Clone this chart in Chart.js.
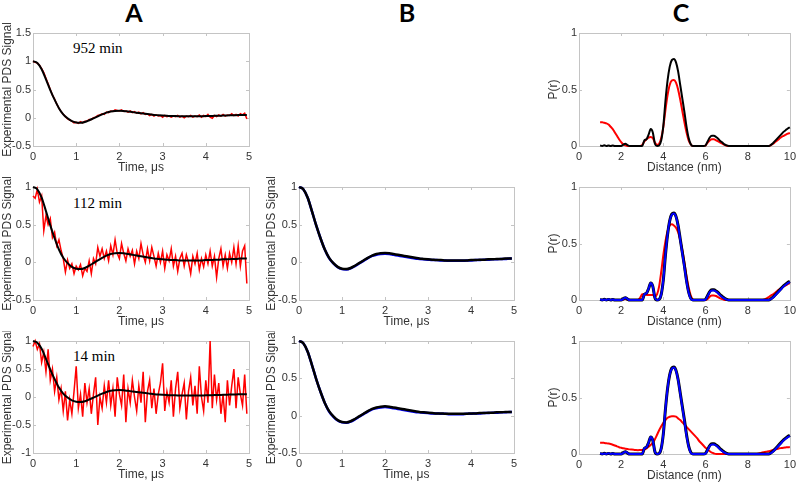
<!DOCTYPE html>
<html>
<head>
<meta charset="utf-8">
<script src="https://cdn.jsdelivr.net/npm/chart.js@4.4.1/dist/chart.umd.min.js"></script>
<style>
  body { margin: 0; background: #fff; }
  #wrap { position: relative; width: 800px; height: 485px; overflow: hidden; }
  canvas { position: absolute; }
  .head { position: absolute; top: 0px; width: 40px; margin-left: -20px; text-align: center;
          font: bold 25px Lato, "Open Sans", sans-serif; line-height: 25px; color: #000; }
  .note { position: absolute; font: 15px "Liberation Serif", "Times New Roman", serif; color: #000; line-height: 17px; }
</style>
</head>
<body>
<div id="wrap">
  <div class="head" style="left:134px">A</div>
  <div class="head" style="left:407px">B</div>
  <div class="head" style="left:681px">C</div>
  <div class="note" style="left:73px;top:40px">952 min</div>
  <div class="note" style="left:73px;top:195px">112 min</div>
  <div class="note" style="left:73px;top:348px">14 min</div>
</div>
<script>
// time axis of the measured traces (µs)
const tExp = [0,0.05,0.1,0.15,0.2,0.25,0.3,0.35,0.4,0.45,
  0.5,0.55,0.6,0.65,0.7,0.75,0.8,0.85,0.9,0.95,
  1,1.05,1.1,1.15,1.2,1.25,1.3,1.35,1.4,1.45,
  1.5,1.55,1.6,1.65,1.7,1.75,1.8,1.85,1.9,1.95,
  2,2.05,2.1,2.15,2.2,2.25,2.3,2.35,2.4,2.45,
  2.5,2.55,2.6,2.65,2.7,2.75,2.8,2.85,2.9,2.95,
  3,3.05,3.1,3.15,3.2,3.25,3.3,3.35,3.4,3.45,
  3.5,3.55,3.6,3.65,3.7,3.75,3.8,3.85,3.9,3.95,
  4,4.05,4.1,4.15,4.2,4.25,4.3,4.35,4.4,4.45,
  4.5,4.55,4.6,4.65,4.7,4.75,4.8,4.85,4.9,4.95];

// red experimental traces
const sig952 = [1.00,0.98,0.97,0.93,0.87,0.80,0.70,0.60,0.50,0.40,
  0.33,0.24,0.17,0.11,0.06,0.02,-0.02,-0.04,-0.06,-0.09,
  -0.08,-0.10,-0.07,-0.09,-0.06,-0.06,-0.03,-0.03,0.00,0.01,
  0.04,0.05,0.07,0.06,0.10,0.09,0.12,0.11,0.14,0.13,
  0.12,0.14,0.11,0.12,0.10,0.12,0.09,0.11,0.08,0.10,
  0.07,0.09,0.06,0.07,0.04,0.06,0.03,0.05,0.03,0.04,
  0.01,0.04,0.02,0.03,0.01,0.03,0.02,0.04,0.01,0.03,
  0.00,0.03,0.02,0.04,0.01,0.03,0.02,0.05,0.01,0.04,
  0.02,0.06,0.01,-0.01,0.04,0.02,0.05,0.03,0.06,0.03,
  0.05,0.04,0.07,0.04,0.06,0.03,0.07,0.05,0.08,-0.02];
const sig112 = [0.88,0.85,0.97,0.80,0.88,0.42,0.62,0.50,0.58,0.33,
  0.40,0.22,0.30,0.16,0.05,-0.13,0.03,-0.08,-0.02,-0.15,
  -0.05,-0.10,-0.03,-0.18,-0.08,-0.12,0.02,-0.15,0.05,-0.02,
  0.20,0.08,0.18,0.05,0.15,0.02,0.22,0.10,0.30,0.12,
  0.05,0.25,0.12,0.02,0.18,0.08,0.16,-0.02,0.15,0.05,
  0.25,0.10,0.00,0.18,0.02,0.20,0.08,-0.05,0.12,0.00,
  0.15,-0.08,0.10,0.02,0.18,-0.05,0.08,-0.12,0.05,0.12,
  -0.05,0.10,0.00,-0.15,0.08,-0.02,0.12,-0.10,0.05,-0.06,
  0.10,-0.02,0.15,-0.05,0.08,-0.20,0.05,0.18,-0.05,0.10,
  -0.08,0.12,0.00,0.20,-0.02,0.22,-0.05,0.15,0.22,-0.28];
const sig14 = [0.90,1.00,0.85,0.95,0.62,0.80,0.45,0.85,0.30,0.50,
  0.10,0.35,-0.05,0.15,-0.25,0.10,-0.42,-0.05,-0.30,0.10,
  0.55,-0.20,0.05,-0.35,0.25,-0.10,0.15,-0.30,0.05,0.35,
  -0.50,0.00,-0.20,0.20,-0.10,0.30,-0.15,0.15,-0.35,0.35,
  0.05,-0.15,0.40,-0.45,0.15,-0.10,0.30,0.00,-0.25,0.20,
  -0.10,0.45,-0.45,0.10,0.30,-0.20,0.15,-0.30,0.05,0.25,
  0.60,-0.25,0.10,-0.10,0.30,-0.35,0.15,0.45,-0.20,0.05,
  0.25,-0.40,0.10,0.35,-0.15,0.20,-0.30,0.55,0.00,-0.25,
  0.30,-0.10,1.00,-0.20,0.40,-0.05,0.25,-0.30,0.05,-0.45,
  0.30,-0.15,0.20,0.50,-0.20,0.35,0.05,-0.15,0.40,-0.30];

// fitted time traces
const tFit = [0,0.1,0.2,0.3,0.4,0.5,0.6,0.7,0.8,0.9,
  1,1.1,1.2,1.3,1.4,1.5,1.6,1.7,1.8,1.9,
  2,2.1,2.2,2.3,2.4,2.5,2.6,2.7,2.8,2.9,
  3,3.1,3.2,3.3,3.4,3.5,3.6,3.7,3.8,3.9,
  4,4.1,4.2,4.3,4.4,4.5,4.6,4.7,4.8,4.9,4.95];
const fitBlack = [1.00,0.97,0.86,0.68,0.49,0.32,0.17,0.06,-0.01,-0.06,
  -0.085,-0.09,-0.075,-0.045,-0.01,0.025,0.06,0.09,0.11,0.12,
  0.125,0.12,0.11,0.10,0.09,0.08,0.07,0.06,0.05,0.045,
  0.04,0.035,0.03,0.03,0.025,0.025,0.025,0.025,0.025,0.025,
  0.03,0.03,0.035,0.035,0.04,0.04,0.045,0.045,0.05,0.05,0.05];
const fitBlue = [1.00,0.97,0.86,0.68,0.49,0.32,0.17,0.055,-0.015,-0.065,
  -0.09,-0.095,-0.08,-0.05,-0.015,0.02,0.055,0.085,0.10,0.11,
  0.115,0.11,0.10,0.09,0.08,0.07,0.06,0.05,0.045,0.04,
  0.035,0.03,0.03,0.025,0.025,0.02,0.02,0.02,0.02,0.025,
  0.025,0.03,0.03,0.035,0.035,0.04,0.04,0.045,0.045,0.05,0.05];

// distance distributions P(r), r in nm
const rDist = [1,1.1,1.2,1.3,1.4,1.5,1.6,1.7,1.8,1.9,
  2,2.1,2.2,2.3,2.4,2.5,2.6,2.7,2.8,2.9,
  3,3.1,3.2,3.3,3.4,3.5,3.6,3.7,3.8,3.9,
  4,4.1,4.2,4.3,4.4,4.5,4.6,4.7,4.8,4.9,
  5,5.1,5.2,5.3,5.4,5.5,5.6,5.7,5.8,5.9,
  6,6.1,6.2,6.3,6.4,6.5,6.6,6.7,6.8,6.9,
  7,7.1,7.2,7.3,7.4,7.5,7.6,7.7,7.8,7.9,
  8,8.1,8.2,8.3,8.4,8.5,8.6,8.7,8.8,8.9,
  9,9.1,9.2,9.3,9.4,9.5,9.6,9.7,9.8,9.9,10];
const prBlack = [0.005,0,0.006,0,0.005,0,0.004,0,0,0,
  0,0.012,0.02,0.008,0,0,0,0,0,0,
  0,0.05,0.06,0.10,0.15,0.12,0.02,0,0.005,0.05,
  0.18,0.40,0.58,0.70,0.76,0.77,0.74,0.66,0.54,0.42,
  0.30,0.17,0.07,0.015,0,0,0,0,0,0,
  0.005,0.04,0.075,0.09,0.09,0.08,0.065,0.045,0.03,0.015,
  0.005,0,0,0,0,0,0,0,0,0,
  0,0,0,0,0,0,0,0,0,0,
  0,0.01,0.025,0.045,0.065,0.085,0.105,0.125,0.14,0.155,0.165];
const prBlue = [0.006,0,0.005,0,0.006,0,0.005,0,0,0,
  0,0.01,0.02,0.01,0,0,0,0,0,0,
  0,0.05,0.06,0.10,0.15,0.12,0.02,0,0.005,0.05,
  0.18,0.40,0.58,0.70,0.755,0.765,0.735,0.655,0.535,0.41,
  0.29,0.16,0.065,0.012,0,0,0,0,0,0,
  0.004,0.035,0.07,0.085,0.085,0.075,0.06,0.04,0.025,0.012,
  0.003,0,0,0,0,0,0,0,0,0,
  0,0,0,0,0,0,0,0,0,0,
  0,0.008,0.022,0.04,0.06,0.08,0.10,0.12,0.135,0.15,0.16];
const prRed952 = [0.21,0.21,0.205,0.20,0.19,0.17,0.15,0.12,0.09,0.06,
  0.035,0.015,0.005,0,0,0,0,0,0,0,
  0.01,0.04,0.06,0.075,0.08,0.07,0.03,0.01,0.02,0.07,
  0.17,0.32,0.45,0.54,0.58,0.585,0.56,0.50,0.41,0.31,
  0.21,0.12,0.05,0.015,0,0,0,0,0,0,
  0.005,0.03,0.05,0.06,0.06,0.05,0.04,0.03,0.02,0.01,
  0.003,0,0,0,0,0,0,0,0,0,
  0,0,0,0,0,0,0,0,0,0,
  0,0.008,0.02,0.035,0.05,0.065,0.08,0.09,0.10,0.11,0.115];
const prRed112 = [0,0,0,0,0,0,0,0,0,0,
  0,0.005,0.01,0.003,0,0,0,0,0,0.02,
  0.05,0.05,0.045,0.045,0.045,0.045,0.03,0.05,0.12,0.25,
  0.40,0.52,0.61,0.66,0.67,0.66,0.64,0.60,0.53,0.44,
  0.33,0.21,0.11,0.04,0.005,0,0,0,0,0,
  0,0.01,0.03,0.04,0.04,0.035,0.025,0.015,0.008,0,
  0,0,0,0,0,0,0,0,0,0,
  0,0,0,0,0,0,0,0,0.005,0.015,
  0.025,0.04,0.05,0.065,0.08,0.095,0.105,0.12,0.13,0.14,0.15];
const prRed14 = [0.10,0.10,0.098,0.095,0.092,0.088,0.082,0.075,0.068,0.06,
  0.055,0.05,0.047,0.044,0.041,0.039,0.037,0.035,0.034,0.035,
  0.035,0.04,0.05,0.065,0.08,0.10,0.13,0.17,0.21,0.245,
  0.275,0.30,0.32,0.33,0.335,0.335,0.33,0.315,0.30,0.28,
  0.26,0.24,0.22,0.20,0.18,0.16,0.14,0.115,0.095,0.075,
  0.055,0.04,0.025,0.012,0.005,0,0,0,0,0,
  0,0,0,0,0,0,0,0,0,0,
  0,0,0,0,0,0.003,0.008,0.013,0.018,0.021,
  0.024,0.03,0.035,0.04,0.045,0.05,0.053,0.056,0.058,0.06,0.061];

const RED = '#ff0000', BLACK = '#000000', BLUE = '#0000ff';
const AXIS_GREY = '#c4c4c4', TEXT_GREY = '#333333';

Chart.defaults.font.family = '"Liberation Sans", Arial, sans-serif';
Chart.defaults.color = TEXT_GREY;

// MATLAB style box round the axes with short inward ticks
const boxPlugin = {
  id: 'box',
  beforeDatasetsDraw(chart) {
    const { ctx, chartArea: a, scales } = chart;
    ctx.save();
    ctx.strokeStyle = AXIS_GREY;
    ctx.lineWidth = 1;
    ctx.strokeRect(Math.round(a.left) + 0.5, Math.round(a.top) + 0.5,
      Math.round(a.right - a.left), Math.round(a.bottom - a.top));
    ctx.beginPath();
    scales.x.ticks.forEach((t, i) => {
      const px = Math.round(scales.x.getPixelForTick(i)) + 0.5;
      ctx.moveTo(px, a.bottom); ctx.lineTo(px, a.bottom - 3);
      ctx.moveTo(px, a.top); ctx.lineTo(px, a.top + 3);
    });
    scales.y.ticks.forEach((t, i) => {
      const py = Math.round(scales.y.getPixelForTick(i)) + 0.5;
      ctx.moveTo(a.left, py); ctx.lineTo(a.left + 3, py);
      ctx.moveTo(a.right, py); ctx.lineTo(a.right - 3, py);
    });
    ctx.stroke();
    ctx.restore();
  }
};

function series(xs, ys, color, width, smooth) {
  return {
    data: xs.map((x, i) => ({ x: x, y: ys[i] })),
    borderColor: color,
    borderWidth: width,
    pointRadius: 0,
    tension: smooth ? 0.4 : 0,
    cubicInterpolationMode: smooth ? 'monotone' : 'default',
    clip: 3
  };
}

function fmt(v) { return String(Math.round(v * 10) / 10); }

// datasets are passed bottom-to-top; chart.js paints index 0 last, so reverse
function panel(p) {
  const wrap = document.getElementById('wrap');
  const cv = document.createElement('canvas');
  const top = p.plot[1] - 10;
  cv.width = p.plot[2] + p.padRight - p.left;
  cv.height = p.plot[3] + 29 - top;
  cv.style.left = p.left + 'px';
  cv.style.top = top + 'px';
  wrap.appendChild(cv);
  new Chart(cv, {
    type: 'line',
    data: { datasets: p.datasets.slice().reverse() },
    options: {
      responsive: false,
      animation: false,
      layout: { padding: { left: 0, top: 10, right: p.padRight, bottom: 0 } },
      plugins: { legend: { display: false }, tooltip: { enabled: false } },
      scales: {
        x: {
          type: 'linear', min: p.xMin, max: p.xMax,
          grid: { display: false, drawTicks: false }, border: { display: false },
          ticks: { stepSize: p.xStep, padding: 4, font: { size: 11 }, color: TEXT_GREY, callback: fmt },
          title: { display: true, text: p.xTitle, padding: 0, font: { size: 12 }, color: TEXT_GREY },
          afterFit: s => { s.height = 29; }
        },
        y: {
          min: p.yMin, max: p.yMax,
          grid: { display: false, drawTicks: false }, border: { display: false },
          ticks: { stepSize: 0.5, padding: 2, font: { size: 11 }, color: TEXT_GREY, callback: fmt },
          title: { display: true, text: p.yTitle, padding: 0, font: { size: 12 }, color: TEXT_GREY },
          afterFit: s => { s.width = p.plot[0] - p.left; }
        }
      }
    },
    plugins: [boxPlugin]
  });
}

const sigTitle = 'Experimental PDS Signal', timeTitle = 'Time, \u03bcs';
const distTitle = 'Distance (nm)', prTitle = 'P(r)';

// column A: measured traces with fits
panel({ left: 0, padRight: 10, plot: [33, 33, 249, 146], xMin: 0, xMax: 5, xStep: 1, yMin: -0.5, yMax: 1.5,
  xTitle: timeTitle, yTitle: sigTitle,
  datasets: [series(tExp, sig952, RED, 1.5, false), series(tFit, fitBlack, BLACK, 2, true)] });
panel({ left: 0, padRight: 10, plot: [33, 187, 249, 300], xMin: 0, xMax: 5, xStep: 1, yMin: -0.5, yMax: 1,
  xTitle: timeTitle, yTitle: sigTitle,
  datasets: [series(tExp, sig112, RED, 1.5, false), series(tFit, fitBlack, BLACK, 2, true)] });
panel({ left: 0, padRight: 10, plot: [33, 341, 249, 453], xMin: 0, xMax: 5, xStep: 1, yMin: -1, yMax: 1,
  xTitle: timeTitle, yTitle: sigTitle,
  datasets: [series(tExp, sig14, RED, 1.5, false), series(tFit, fitBlack, BLACK, 2, true)] });

// column B: simulated traces
panel({ left: 264, padRight: 10, plot: [299, 187, 514, 300], xMin: 0, xMax: 5, xStep: 1, yMin: -0.5, yMax: 1,
  xTitle: timeTitle, yTitle: sigTitle,
  datasets: [series(tFit, fitBlue, BLUE, 2.5, true), series(tFit, fitBlack, BLACK, 2.5, true)] });
panel({ left: 264, padRight: 10, plot: [299, 341, 514, 453], xMin: 0, xMax: 5, xStep: 1, yMin: -0.5, yMax: 1,
  xTitle: timeTitle, yTitle: sigTitle,
  datasets: [series(tFit, fitBlue, BLUE, 2.5, true), series(tFit, fitBlack, BLACK, 2.5, true)] });

// column C: distance distributions
panel({ left: 546, padRight: 7, plot: [579, 33, 793, 146], xMin: 0, xMax: 10, xStep: 2, yMin: 0, yMax: 1,
  xTitle: distTitle, yTitle: prTitle,
  datasets: [series(rDist, prRed952, RED, 2, true), series(rDist, prBlack, BLACK, 2, true)] });
panel({ left: 546, padRight: 7, plot: [579, 187, 793, 300], xMin: 0, xMax: 10, xStep: 2, yMin: 0, yMax: 1,
  xTitle: distTitle, yTitle: prTitle,
  datasets: [series(rDist, prRed112, RED, 2, true), series(rDist, prBlack, BLACK, 3, true), series(rDist, prBlue, BLUE, 2, true)] });
panel({ left: 546, padRight: 7, plot: [579, 341, 793, 454], xMin: 0, xMax: 10, xStep: 2, yMin: 0, yMax: 1,
  xTitle: distTitle, yTitle: prTitle,
  datasets: [series(rDist, prRed14, RED, 2, true), series(rDist, prBlack, BLACK, 3, true), series(rDist, prBlue, BLUE, 2, true)] });
</script>
</body>
</html>
